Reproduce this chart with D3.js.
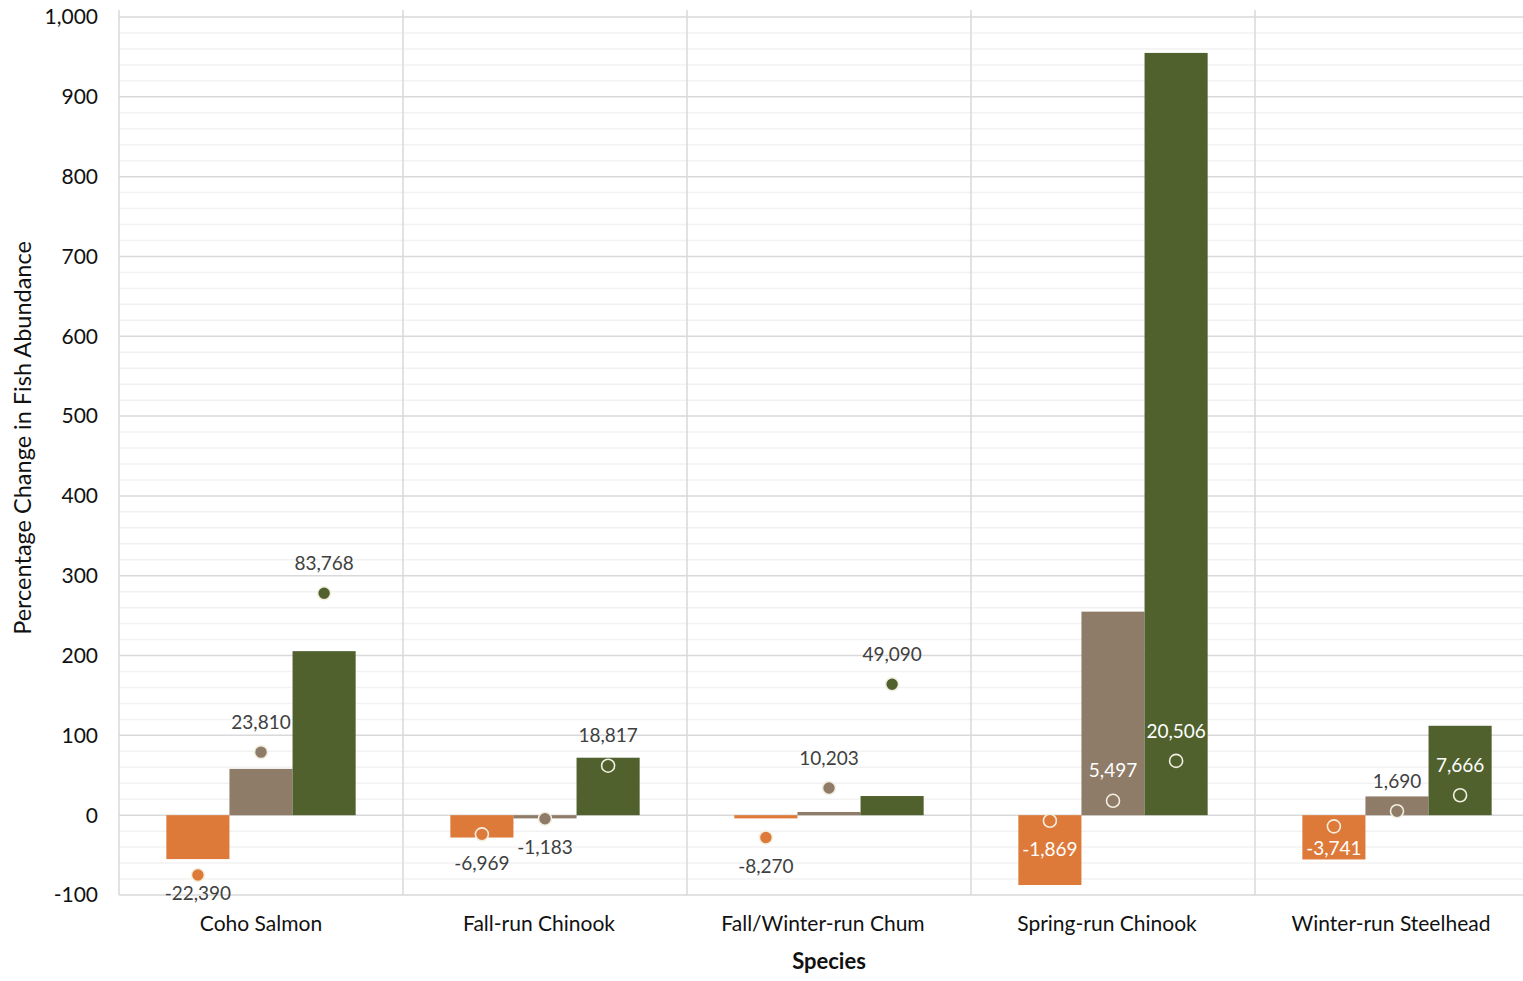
<!DOCTYPE html>
<html>
<head>
<meta charset="utf-8">
<script src="https://cdn.jsdelivr.net/npm/d3@7"></script>
<style>
  body { margin: 0; background: #fff; }
  text { font-family: Lato, "Open Sans", sans-serif; }
</style>
</head>
<body>
<div id="chart"></div>
<script>
// categories and series
var species = ["Coho Salmon", "Fall-run Chinook", "Fall/Winter-run Chum", "Spring-run Chinook", "Winter-run Steelhead"];
var scenarios = ["Scenario 1", "Scenario 2", "Scenario 3"];
var colors = ["#de7a39", "#8e7c68", "#50612d"];

// bar heights (% change)
var barPct1 = [-55, -28, -4, -87.5, -55.5];
var barPct2 = [58, -4, 4, 255, 23.5];
var barPct3 = [205.5, 72, 24, 955, 112];

// point positions (% change)
var pointPct1 = [-75, -24, -28, -7, -14];
var pointPct2 = [79, -4.5, 34, 18, 5];
var pointPct3 = [278, 62, 164, 68, 25];

// labelled changes in fish numbers
var countChange1 = [-22390, -6969, -8270, -1869, -3741];
var countChange2 = [23810, -1183, 10203, 5497, 1690];
var countChange3 = [83768, 18817, 49090, 20506, 7666];

// which labels sit under their point
var labelBelow1 = [true, true, true, true, true];
var labelBelow2 = [false, true, false, false, false];
var labelBelow3 = [false, false, false, false, false];

var yTicks = [-100, 0, 100, 200, 300, 400, 500, 600, 700, 800, 900, 1000];

var width = 1523, height = 981;
var plot = {left: 119, right: 1539, top: 17, bottom: 895};

var bars = [barPct1, barPct2, barPct3];
var points = [pointPct1, pointPct2, pointPct3];
var counts = [countChange1, countChange2, countChange3];
var below = [labelBelow1, labelBelow2, labelBelow3];

var svg = d3.select("#chart").append("svg")
  .attr("width", width)
  .attr("height", height);

var x0 = d3.scaleBand().domain(species).range([plot.left, plot.right]).padding(0);
var bw = x0.bandwidth();
var x1 = d3.scaleBand().domain(scenarios).range([bw * 0.1667, bw * 0.8333]).padding(0);
var y = d3.scaleLinear().domain([-100, 1000]).range([plot.bottom, plot.top]);

// plain hyphen for negatives, like the original
var fmt = d3.formatLocale({decimal: ".", thousands: ",", grouping: [3], currency: ["", ""], minus: "-"}).format(",");

// minor gridlines
var g = svg.append("g");
g.selectAll("line.minor")
  .data(d3.range(-100, 1001, 20).filter(function(v) { return v % 100 != 0; }))
  .enter().append("line")
  .attr("x1", plot.left).attr("x2", width)
  .attr("y1", function(d) { return y(d); })
  .attr("y2", function(d) { return y(d); })
  .attr("stroke", "#f2f2f2").attr("stroke-width", 1.5);

// major gridlines
g.selectAll("line.major")
  .data(yTicks).enter().append("line")
  .attr("x1", plot.left).attr("x2", width)
  .attr("y1", function(d) { return y(d); })
  .attr("y2", function(d) { return y(d); })
  .attr("stroke", "#d9d9d9").attr("stroke-width", 1.5);

// vertical category dividers
g.selectAll("line.div")
  .data(species).enter().append("line")
  .attr("x1", function(d) { return x0(d); })
  .attr("x2", function(d) { return x0(d); })
  .attr("y1", 10).attr("y2", plot.bottom)
  .attr("stroke", "#d9d9d9").attr("stroke-width", 1.5);

// y tick labels
svg.append("g").selectAll("text")
  .data(yTicks).enter().append("text")
  .attr("x", 98)
  .attr("y", function(d) { return y(d); })
  .attr("dy", "0.35em")
  .attr("text-anchor", "end")
  .attr("font-size", 21)
  .attr("fill", "#111")
  .text(function(d) { return fmt(d); });

// category labels
svg.append("g").selectAll("text")
  .data(species).enter().append("text")
  .attr("x", function(d, i) { return x0(d) + bw / 2 - (i ? 6 : 0); })
  .attr("y", 931)
  .attr("text-anchor", "middle")
  .attr("font-size", 21)
  .attr("fill", "#111")
  .text(function(d) { return d; });

// axis titles
svg.append("text")
  .attr("x", (plot.left + plot.right) / 2)
  .attr("y", 969)
  .attr("text-anchor", "middle")
  .attr("font-size", 22)
  .attr("font-weight", "bold")
  .attr("fill", "#111")
  .text("Species");

svg.append("text")
  .attr("transform", "translate(31,438) rotate(-90)")
  .attr("text-anchor", "middle")
  .attr("font-size", 23.5)
  .attr("fill", "#111")
  .text("Percentage Change in Fish Abundance");

// bars
scenarios.forEach(function(s, si) {
  svg.append("g").selectAll("rect")
    .data(species).enter().append("rect")
    .attr("x", function(d) { return x0(d) + x1(s); })
    .attr("width", x1.bandwidth())
    .attr("y", function(d, i) { return y(Math.max(0, bars[si][i])); })
    .attr("height", function(d, i) { return Math.abs(y(bars[si][i]) - y(0)); })
    .attr("fill", colors[si]);
});

// points and labels
scenarios.forEach(function(s, si) {
  var cx = function(d) { return x0(d) + x1(s) + x1.bandwidth() / 2; };
  svg.append("g").selectAll("circle")
    .data(species).enter().append("circle")
    .attr("cx", cx)
    .attr("cy", function(d, i) { return y(points[si][i]); })
    .attr("r", 6.5)
    .attr("fill", colors[si])
    .attr("stroke", "#f3efe0")
    .attr("stroke-width", 1.6);

  svg.append("g").selectAll("text")
    .data(species).enter().append("text")
    .each(function(d, i) {
      var ly = y(points[si][i]) + (below[si][i] ? 29 : -30);
      ly = Math.min(ly, plot.bottom - 2); // keep labels inside the plot area
      var top = y(Math.max(0, bars[si][i])), bot = y(Math.min(0, bars[si][i]));
      var inside = ly > top + 4 && ly < bot - 4;
      // labels that start inside a bar are kept fully inside it
      if (inside) ly = Math.max(top + 11, Math.min(ly, bot - 11));
      d3.select(this)
        .attr("x", cx(d))
        .attr("y", ly)
        .attr("dy", "0.35em")
        .attr("text-anchor", "middle")
        .attr("font-size", 19)
        .attr("fill", inside ? "#ffffff" : "#404040")
        .text(fmt(counts[si][i]));
    });
});
</script>
</body>
</html>
